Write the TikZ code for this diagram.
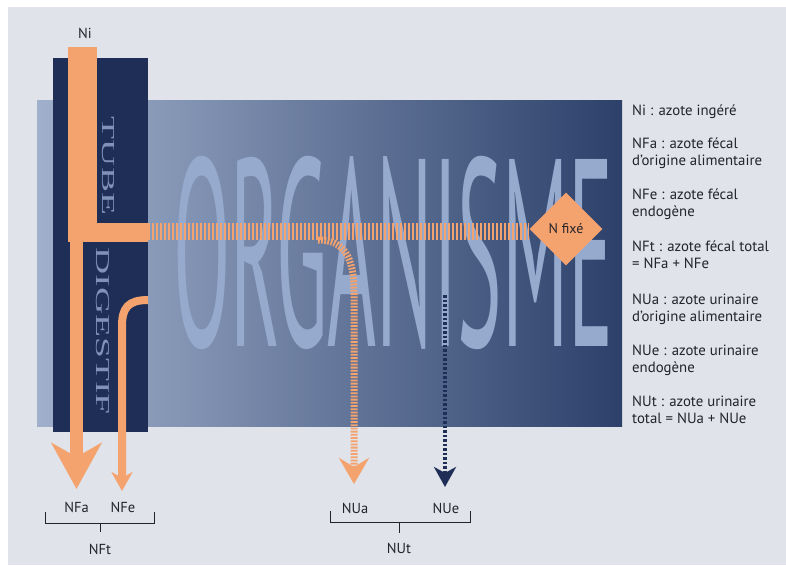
\documentclass[tikz,border=0pt]{standalone}
\usepackage{fontspec}
\setmainfont{PT Sans}
\newfontfamily\tubefont{Liberation Serif}
\usetikzlibrary{arrows.meta,shapes.geometric}
\definecolor{orng}{RGB}{245,163,110}
\definecolor{navy}{RGB}{30,46,86}
\definecolor{bggray}{RGB}{224,227,233}
\definecolor{orgL}{RGB}{160,176,204}
\definecolor{orgM}{RGB}{104,124,162}
\definecolor{orgR}{RGB}{44,64,106}
\definecolor{ghost}{RGB}{150,170,206}
\definecolor{tubetxt}{RGB}{128,146,184}
\definecolor{ink}{RGB}{35,35,42}
\begin{document}
\begin{tikzpicture}[x=1pt,y=-1pt,
  lbl/.style={font=\fontsize{14.5}{17}\selectfont, text=ink, inner sep=2pt, anchor=base},
  leg/.style={font=\fontsize{14.8}{17}\selectfont, text=ink, inner sep=0pt, anchor=base west, align=left},
  brk/.style={draw=ink, line width=1pt},
  flow/.style={draw=orng},
  stripes/.style={dash pattern=on 2.4pt off 1.6pt},
  dots/.style={dash pattern=on 1.8pt off 1.4pt}]
\useasboundingbox (0,0) rectangle (786,565);
\fill[white] (0,0) rectangle (786,565);
\fill[bggray] (8,7) rectangle (786,565);
% organism block
\shade[left color=orgL, middle color=orgM, right color=orgR] (37,100) rectangle (622,426);
\node[anchor=south west, inner sep=0, text=ghost] (org) at (173,350)
  {\resizebox{440pt}{190pt}{ORGANISME}};
% digestive tube
\fill[navy] (53,58) rectangle (148,432);
\node[rotate=-90, inner sep=0, text=tubetxt] (tube) at (108,166)
  {\resizebox{98pt}{12pt}{\tubefont TUBE}};
\node[rotate=-90, inner sep=0, text=tubetxt] (dig) at (103,331)
  {\resizebox{167pt}{13pt}{\tubefont DIGESTIF}};
% ingested nitrogen band
\node[lbl] (ni) at (85,38) {Ni};
\fill[orng] (68,47) rectangle (97,242);
\fill[orng] (97,223) rectangle (148,242);
% labels
\node[lbl] (nfa) at (76.5,512) {NFa};
\node[lbl] (nfe) at (123,512) {NFe};
\node[lbl] (nft) at (100,554) {NFt};
\node[lbl] (nua) at (355,513) {NUa};
\node[lbl] (nue) at (446,513) {NUe};
\node[lbl] (nut) at (399,553) {NUt};
\node[diamond, fill=orng, minimum width=73, minimum height=73, inner sep=0,
  font=\fontsize{14}{16}\selectfont, text=ink] (nfix) at (566,229) {N fixé};
% urinary flow of dietary origin (drawn under the band)
\coordinate (nuas) at (318,240);
\draw[flow, line width=7pt, dots, -{Stealth[length=26pt,width=30pt,inset=9pt]}, shorten >=16.5pt]
  (nuas) .. controls (344,240) and (354,257) .. (354,292) -- (354,292 |- nua.north);
% striped absorbed flow
\coordinate (hs) at (148,231);
\draw[flow, line width=17pt, stripes] (hs) -- (hs -| nfix.west);
% faecal flows
\coordinate (split) at (76.5,242);
\draw[flow, line width=13pt, -{Stealth[length=46pt,width=50pt,inset=14pt]}, shorten >=10.5pt]
  (split) -- (split |- nfa.north);
\coordinate (nfes) at (148,300);
\draw[flow, line width=8pt, -{Stealth[length=19pt,width=21pt,inset=6pt]}, shorten >=8.5pt]
  (nfes) .. controls (128,300) and (122,308) .. (122,326) -- (122,326 |- nfe.north);
% endogenous urinary flow
\coordinate (nues) at (445,295);
\draw[navy, line width=3.5pt, dash pattern=on 2.5pt off 2pt,
  -{Stealth[length=20pt,width=22pt,inset=6pt]}, shorten >=13.5pt]
  (nues) -- (nues |- nue.north);
% brackets
\draw[brk] (45,512) -- (45,523) -- (154,523) -- (154,512);
\draw[brk] (100,523) -- (100,532);
\draw[brk] (330,511) -- (330,522) -- (470,522) -- (470,511);
\draw[brk] (399,522) -- (399,533);
% legend
\node[leg] (l1) at (632,115) {Ni : azote ingéré};
\node[leg] (l2) at (632,165) {NFa : azote fécal\\d'origine alimentaire};
\node[leg] (l3) at (632,216) {NFe : azote fécal\\endogène};
\node[leg] (l4) at (632,268) {NFt : azote fécal total\\= NFa + NFe};
\node[leg] (l5) at (632,321) {NUa : azote urinaire\\d'origine alimentaire};
\node[leg] (l6) at (632,372) {NUe : azote urinaire\\endogène};
\node[leg] (l7) at (632,423) {NUt : azote urinaire\\total = NUa + NUe};
\end{tikzpicture}
\end{document}
